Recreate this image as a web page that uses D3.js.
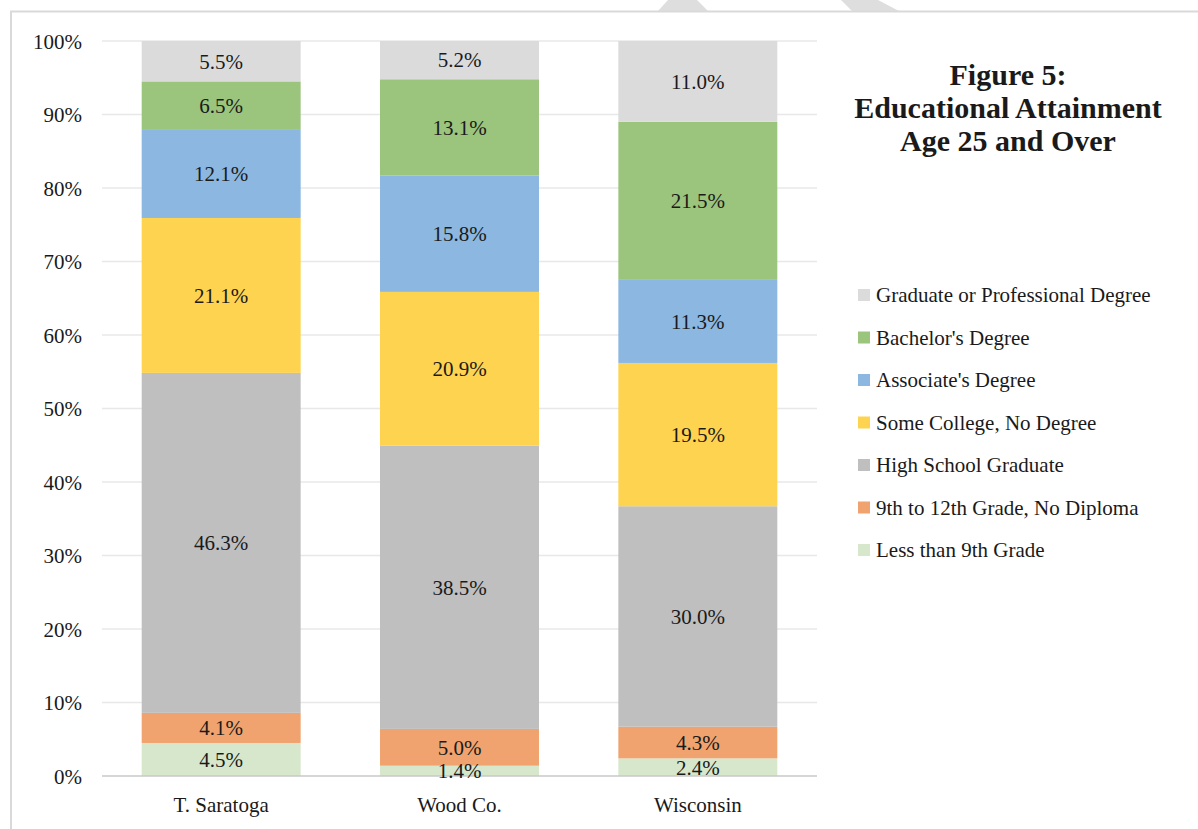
<!DOCTYPE html>
<html><head><meta charset="utf-8">
<script src="https://cdn.jsdelivr.net/npm/d3@7"></script>
<style>
html,body{margin:0;padding:0;background:#fff;}
svg{display:block;}
text{font-family:"Liberation Serif","DejaVu Serif",serif;fill:#1a1a1a;}
</style></head>
<body>
<svg id="chart" width="1198" height="829"></svg>
<script>
const categories = ["T. Saratoga", "Wood Co.", "Wisconsin"];
const seriesNames = ["Less than 9th Grade", "9th to 12th Grade, No Diploma", "High School Graduate", "Some College, No Degree", "Associate's Degree", "Bachelor's Degree", "Graduate or Professional Degree"];
const lessThan9th   = [4.5, 1.4, 2.4];
const grade9to12    = [4.1, 5.0, 4.3];
const highSchool    = [46.3, 38.5, 30.0];
const someCollege   = [21.1, 20.9, 19.5];
const associate     = [12.1, 15.8, 11.3];
const bachelor      = [6.5, 13.1, 21.5];
const graduate      = [5.5, 5.2, 11.0];
const seriesColors = ["#d6e7cc", "#f0a36e", "#bfbfbf", "#fed350", "#8cb7e0", "#9bc47d", "#dcdbdc"];
const yTicks = [0, 0.1, 0.2, 0.3, 0.4, 0.5, 0.6, 0.7, 0.8, 0.9, 1.0];
const titleLines = ["Figure 5:", "Educational Attainment", "Age 25 and Over"];

const seriesValues = [lessThan9th, grade9to12, highSchool, someCollege, associate, bachelor, graduate];
const rows = categories.map((c, i) => {
  const r = {cat: c};
  seriesNames.forEach((s, j) => r[s] = seriesValues[j][i]);
  return r;
});

const svg = d3.select("#chart");
const FS = 21;

// decorative background shapes and frame
svg.append("polygon").attr("points", "668,0 697,0 708,11 658,11").attr("fill", "#dedede");
svg.append("polygon").attr("points", "841,0 878,0 899,11 852,11").attr("fill", "#dedede");
svg.append("path").attr("d", "M11,829 L11,11.5 L1198,11.5").attr("fill", "none").attr("stroke", "#d9d9d9").attr("stroke-width", 2);

const x = d3.scaleBand().domain(categories).range([102, 817]).paddingInner(0.333).paddingOuter(0.1665);
const y = d3.scaleLinear().domain([0, 1]).range([776, 41]);

const stack = d3.stack().keys(seriesNames).offset(d3.stackOffsetExpand);
const stacked = stack(rows);

// gridlines
svg.append("g").selectAll("line").data(yTicks.filter(t => t > 0)).join("line")
  .attr("x1", 102).attr("x2", 817)
  .attr("y1", d => y(d)).attr("y2", d => y(d))
  .attr("stroke", "#e8e8e8").attr("stroke-width", 1.5);

// y axis labels
const yAxis = d3.axisLeft(y).tickValues(yTicks).tickFormat(d3.format(".0%")).tickSize(0).tickPadding(0);
const ga = svg.append("g").attr("transform", "translate(82,0)").call(yAxis);
ga.select(".domain").remove();
ga.selectAll("text").attr("font-size", FS).attr("dy", "0.35em").style("font-family", '"Liberation Serif",serif').attr("fill", "#1a1a1a");

// bars
const layers = svg.append("g").selectAll("g").data(stacked).join("g")
  .attr("fill", (d, i) => seriesColors[i]);
layers.selectAll("rect").data(d => d).join("rect")
  .attr("x", d => x(d.data.cat))
  .attr("width", x.bandwidth())
  .attr("y", d => y(d[1]))
  .attr("height", d => y(d[0]) - y(d[1]));

// baseline
svg.append("line").attr("x1", 102).attr("x2", 817).attr("y1", y(0)).attr("y2", y(0))
  .attr("stroke", "#c8c8c8").attr("stroke-width", 1.5);

// data labels
const lbl = svg.append("g");
stacked.forEach((layer, i) => {
  layer.forEach(d => {
    lbl.append("text")
      .attr("x", x(d.data.cat) + x.bandwidth() / 2)
      .attr("y", (y(d[0]) + y(d[1])) / 2)
      .attr("dy", "0.35em")
      .attr("text-anchor", "middle")
      .attr("font-size", FS)
      .text(d3.format(".1f")(d.data[layer.key]) + "%");
  });
});

// x axis
const xAxis = d3.axisBottom(x).tickSize(0).tickPadding(0);
const gx = svg.append("g").attr("transform", "translate(0,805)").call(xAxis);
gx.select(".domain").remove();
gx.selectAll("text").attr("font-size", FS).attr("dy", "0.35em").style("font-family", '"Liberation Serif",serif').attr("fill", "#1a1a1a");

// title
const t = svg.append("text").attr("text-anchor", "middle").attr("font-weight", "bold").attr("font-size", 30);
titleLines.forEach((line, i) => {
  t.append("tspan").attr("x", 1008).attr("y", 85 + i * 33).text(line);
});

// legend
const legendOrder = seriesNames.map((s, i) => i).reverse();
const lg = svg.append("g").selectAll("g").data(legendOrder).join("g")
  .attr("transform", (d, k) => `translate(858,${295 + k * 42.5})`);
lg.append("rect").attr("x", 0).attr("y", -6).attr("width", 12).attr("height", 12).attr("fill", d => seriesColors[d]);
lg.append("text").attr("x", 18).attr("dy", "0.35em").attr("font-size", FS).text(d => seriesNames[d]);
</script>
</body></html>
